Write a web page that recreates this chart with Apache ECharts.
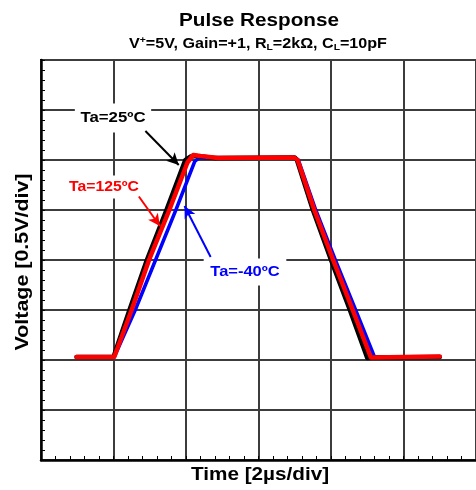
<!DOCTYPE html>
<html>
<head>
<meta charset="utf-8">
<script src="https://cdn.jsdelivr.net/npm/echarts@6/dist/echarts.min.js"></script>
<style>
  html, body { margin: 0; padding: 0; background: #fff; }
  #chart { width: 476px; height: 490px; }
</style>
</head>
<body>
<div id="chart"></div>
<script>
// x in time divisions (2us/div), y in voltage divisions (0.5V/div)
const ta25 = [[0.49, 2.06], [1.0, 2.06], [1.22, 3.0], [1.46, 4.0], [1.73, 5.0], [1.99, 6.0], [2.06, 6.07], [2.14, 6.08], [2.4, 6.04], [3.5, 6.05], [3.53, 6.0], [3.75, 5.0], [4.0, 4.0], [4.26, 3.0], [4.5, 2.04], [4.62, 2.05], [5.5, 2.06]]
const ta125 = [[0.49, 2.06], [1.01, 2.06], [1.25, 3.0], [1.49, 4.0], [1.77, 5.0], [2.02, 5.95], [2.1, 6.1], [2.2, 6.08], [2.44, 6.04], [3.49, 6.05], [3.51, 6.08], [3.54, 6.0], [3.77, 5.0], [4.03, 4.0], [4.3, 3.0], [4.55, 2.05], [5.5, 2.07]]
const taM40 = [[0.49, 2.06], [1.01, 2.06], [1.3, 3.0], [1.58, 4.0], [1.86, 5.0], [2.12, 5.97], [2.18, 6.04], [2.4, 6.04], [3.5, 6.05], [3.55, 6.0], [3.79, 5.0], [4.06, 4.0], [4.34, 3.0], [4.6, 2.06], [4.7, 2.06], [5.5, 2.06]]

// annotation arrows: [start, tip]
const arrow25 = [[1.44, 6.58], [1.9, 5.9]]
const arrow125 = [[1.35, 5.27], [1.64, 4.68]]
const arrowM40 = [[2.34, 4.06], [1.98, 5.08]]

const FONT = '"Liberation Sans", Arial, sans-serif'
const chart = echarts.init(document.getElementById('chart'))

function trace(name, data, color, width, arrow) {
  return {
    name: name,
    type: 'line',
    data: data,
    symbol: 'none',
    lineStyle: { color: color, width: width, join: 'round', cap: 'round' },
    markLine: {
      silent: true,
      symbol: ['none', 'arrow'],
      symbolSize: [9, 12],
      label: { show: false },
      lineStyle: { color: color, width: 2, type: 'solid' },
      data: [[{ coord: arrow[0] }, { coord: arrow[1] }]]
    }
  }
}

function txt(text, x, y, color, size, opts, pad) {
  const style = {
    text: text, fill: color, font: 'bold ' + size + 'px ' + FONT,
    textAlign: 'center', textVerticalAlign: 'middle'
  }
  if (pad) {
    style.backgroundColor = '#fff'
    style.padding = pad
  }
  return Object.assign({ type: 'text', x: x, y: y, z: 1, style: style }, opts || {})
}

const option = {
  animation: false,
  backgroundColor: '#fff',
  grid: { left: 41, top: 60, width: 440, height: 400, show: true, borderColor: '#000', borderWidth: 2 },
  xAxis: {
    type: 'value', min: 0, max: 6, interval: 1,
    axisLine: { show: true, onZero: false, lineStyle: { color: '#000', width: 2.5 } },
    axisTick: { show: true, inside: true, length: 4, lineStyle: { color: '#000' } },
    minorTick: { show: true, splitNumber: 5, length: 4, lineStyle: { color: '#000', width: 1 } },
    axisLabel: { show: false },
    splitLine: { show: true, lineStyle: { color: '#3c3c3c', width: 2 } }
  },
  yAxis: {
    type: 'value', min: 0, max: 8, interval: 1,
    axisLine: { show: true, onZero: false, lineStyle: { color: '#000', width: 2.5 } },
    axisTick: { show: true, inside: true, length: 4, lineStyle: { color: '#000' } },
    minorTick: { show: true, splitNumber: 5, length: 4, lineStyle: { color: '#000', width: 1 } },
    axisLabel: { show: false },
    splitLine: { show: true, lineStyle: { color: '#3c3c3c', width: 2 } }
  },
  graphic: [
    txt('Pulse Response', 259, 21, '#000', 18, { scaleX: 1.15 }),
    {
      type: 'text', x: 258, y: 44, scaleX: 1.15,
      style: {
        text: 'V{sup|+}=5V, Gain=+1, R{sub|L}=2kΩ, C{sub|L}=10pF',
        fill: '#000', font: 'bold 14px ' + FONT,
        textAlign: 'center', textVerticalAlign: 'middle',
        rich: {
          sup: { fontSize: 9, fontWeight: 'bold', fontFamily: FONT, padding: [0, 0, 6, 0] },
          sub: { fontSize: 9, fontWeight: 'bold', fontFamily: FONT, padding: [7, 0, 0, 0] }
        }
      }
    },
    txt('Voltage [0.5V/div]', 23, 262, '#000', 18, { rotation: Math.PI / 2, scaleX: 1.19 }),
    txt('Time [2µs/div]', 260, 475, '#000', 18, { scaleX: 1.15 }),
    txt('Ta=25ºC', 113, 118, '#000', 15, { scaleX: 1.12 }, [7, 5, 7, 5]),
    txt('Ta=125ºC', 104, 187, '#f00', 15, { scaleX: 1.05 }, [4, 3, 4, 3]),
    txt('Ta=-40ºC', 245, 272, '#00f', 15, { scaleX: 1.1 }, [6, 6, 6, 6])
  ],
  series: [
    trace('Ta=-40ºC', taM40, '#0000ff', 3.5, arrowM40),
    trace('Ta=25ºC', ta25, '#000000', 4.5, arrow25),
    trace('Ta=125ºC', ta125, '#ff0000', 4.5, arrow125)
  ]
}

chart.setOption(option)
</script>
</body>
</html>
